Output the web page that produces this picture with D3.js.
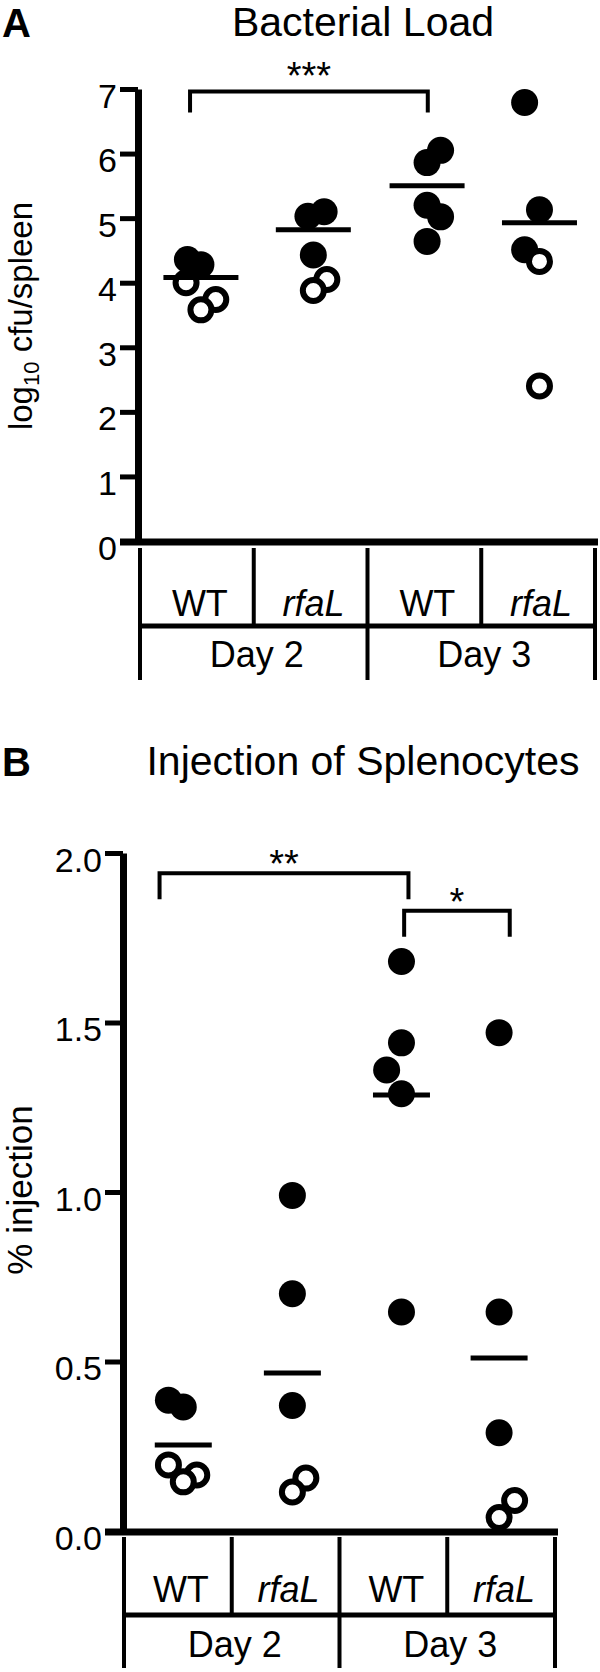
<!DOCTYPE html>
<head>
  <meta charset="utf-8">
  <script src="https://d3js.org/d3.v7.min.js"></script>
  <style>
    body { margin: 0; background: #fff; }
    svg text { font-family: 'Liberation Sans', Arial, Helvetica, sans-serif; fill: #000; }
  </style>
</head>

<body>
  <svg id="chart" width="600" height="1672"></svg>
  <script>
    // shared table categories
    var strains = ['WT', 'rfaL', 'WT', 'rfaL'];
    var days = ['Day 2', 'Day 3'];

    // A: bacterial load, log10 cfu/spleen (one row per group, 5 mice)
    var loadValues = [
      [4.36, 4.28, 4.00, 3.74, 3.58],
      [5.03, 5.10, 4.43, 4.05, 3.88],
      [6.05, 5.86, 5.20, 5.02, 4.64],
      [6.79, 5.13, 4.51, 4.33, 2.40]
    ];
    var loadOpen = [
      [0, 0, 1, 1, 1],
      [0, 0, 0, 1, 1],
      [0, 0, 0, 0, 0],
      [0, 0, 0, 1, 1]
    ];
    // horizontal spread of the dots, in dot radii
    var loadJitter = [
      [-0.7, 0.3, -0.8, 1.4, 0.3],
      [-0.2, 1.0, 0.2, 1.2, 0.2],
      [1.2, 0.2, 0.2, 1.2, 0.2],
      [-1.0, 0.1, -1.0, 0.1, 0.1]
    ];
    var loadMeans = [4.08, 4.82, 5.50, 4.93];
    var loadTicks = [0, 1, 2, 3, 4, 5, 6, 7];
    var loadStars = ['***'];
    var loadBracketFrom = [-0.06];
    var loadBracketTo = [2.03];
    var loadBracketAt = [6.96];

    // B: injection of splenocytes, % injection
    var injValues = [
      [0.386, 0.366, 0.195, 0.165, 0.145],
      [0.99, 0.70, 0.37, 0.156, 0.115],
      [1.68, 1.44, 1.36, 1.29, 0.646],
      [1.47, 0.646, 0.29, 0.09, 0.04]
    ];
    var injOpen = [
      [0, 0, 1, 1, 1],
      [0, 0, 0, 1, 1],
      [0, 0, 0, 0, 0],
      [0, 0, 0, 1, 1]
    ];
    var injJitter = [
      [-0.7, 0.4, -0.7, 1.4, 0.4],
      [0.5, 0.5, 0.5, 1.5, 0.5],
      [0.6, 0.6, -0.5, 0.6, 0.6],
      [-0.15, -0.15, -0.15, 1.0, -0.15]
    ];
    var injMeans = [0.254, 0.466, 1.286, 0.51];
    var injTicks = [0, 0.5, 1, 1.5, 2];
    var injStars = ['**', '*'];
    var injBracketFrom = [-0.17, 2.10];
    var injBracketTo = [2.14, 3.08];
    var injBracketAt = [1.94, 1.83];

    var chart = d3.select('#chart');
    var R = 13.5;

    function drawPanel(p) {
      var g = chart.append('g');
      var y = d3.scaleLinear().domain(p.yDomain).range(p.yRange);
      var x = d3.scaleLinear().domain([-0.5, strains.length - 0.5]).range(p.tableX);
      var bw = (p.tableX[1] - p.tableX[0]) / strains.length;
      var dayX = d3.scaleBand().domain(days).range(p.tableX);

      g.append('text')
        .attr('x', 2).attr('y', p.letterY)
        .attr('font-size', 40).attr('font-weight', 'bold')
        .text(p.letter);

      g.append('text')
        .attr('x', 363).attr('y', p.letterY - 1)
        .attr('text-anchor', 'middle').attr('font-size', 41)
        .text(p.title);

      p.label(g);

      var axis = g.append('g')
        .attr('transform', 'translate(' + p.axisX + ',0)')
        .call(d3.axisLeft(y).tickValues(p.ticks).tickFormat(p.format)
          .tickSize(18).tickSizeOuter(0).tickPadding(3));
      axis.attr('font-family', null).attr('font-size', 34);
      axis.select('.domain').attr('stroke', '#000').attr('stroke-width', 7);
      axis.selectAll('.tick line').attr('stroke', '#000').attr('stroke-width', 5);
      axis.selectAll('.tick text').attr('fill', '#000').attr('dy', '0.53em');

      // x axis line, it also carries the 0 tick
      g.append('line')
        .attr('x1', p.axisX - 18).attr('x2', p.tableX[1] + 3)
        .attr('y1', y(0) + 1).attr('y2', y(0) + 1)
        .attr('stroke', '#000').attr('stroke-width', 7);

      // category table under the axis
      var t = p.tableY;
      g.selectAll('.vline')
        .data(d3.range(strains.length + 1))
        .join('line')
        .attr('x1', (i) => p.tableX[0] + i * bw)
        .attr('x2', (i) => p.tableX[0] + i * bw)
        .attr('y1', t[0])
        .attr('y2', (i) => i % 2 === 0 ? t[2] : t[1])
        .attr('stroke', '#000').attr('stroke-width', 4);

      g.append('line')
        .attr('x1', p.tableX[0]).attr('x2', p.tableX[1])
        .attr('y1', t[1]).attr('y2', t[1])
        .attr('stroke', '#000').attr('stroke-width', 5);

      g.selectAll('.strain')
        .data(strains)
        .join('text')
        .attr('x', (d, i) => x(i) + 3)
        .attr('y', p.textY[0])
        .attr('text-anchor', 'middle').attr('font-size', 36)
        .attr('font-style', (d) => d === 'rfaL' ? 'italic' : null)
        .text((d) => d);

      g.selectAll('.day')
        .data(days)
        .join('text')
        .attr('x', (d) => dayX(d) + dayX.bandwidth() / 2 + 3)
        .attr('y', p.textY[1])
        .attr('text-anchor', 'middle').attr('font-size', 36)
        .text((d) => d);

      // dots
      var points = [];
      p.values.forEach((vals, i) => vals.forEach((v, j) => points.push({
        group: i, value: v, open: p.open[i][j], jit: p.jitter[i][j]
      })));

      g.selectAll('.dot')
        .data(points)
        .join('circle')
        .attr('cx', (d) => x(d.group) + d.jit * R)
        .attr('cy', (d) => y(d.value))
        .attr('r', (d) => d.open ? R - 3 : R)
        .attr('fill', (d) => d.open ? '#fff' : '#000')
        .attr('stroke', (d) => d.open ? '#000' : 'none')
        .attr('stroke-width', 6);

      // group means
      g.selectAll('.mean')
        .data(p.means)
        .join('line')
        .attr('x1', (d, i) => x(i) + d3.median(p.jitter[i]) * R - p.meanLen / 2)
        .attr('x2', (d, i) => x(i) + d3.median(p.jitter[i]) * R + p.meanLen / 2)
        .attr('y1', (d) => y(d))
        .attr('y2', (d) => y(d))
        .attr('stroke', '#000').attr('stroke-width', 5);

      // significance brackets
      g.selectAll('.bracket')
        .data(p.stars)
        .join('path')
        .attr('d', (d, k) => 'M' + x(p.bFrom[k]) + ',' + (y(p.bAt[k]) + p.drop) +
          'V' + y(p.bAt[k]) + 'H' + x(p.bTo[k]) + 'V' + (y(p.bAt[k]) + p.drop))
        .attr('fill', 'none').attr('stroke', '#000').attr('stroke-width', 4);

      g.selectAll('.stars')
        .data(p.stars)
        .join('text')
        .attr('x', (d, k) => (x(p.bFrom[k]) + x(p.bTo[k])) / 2)
        .attr('y', (d, k) => y(p.bAt[k]) - p.starGap + 16)
        .attr('text-anchor', 'middle').attr('font-size', 38)
        .text((d) => d);
    }

    drawPanel({
      letter: 'A', title: 'Bacterial Load', letterY: 37,
      values: loadValues, open: loadOpen, jitter: loadJitter, means: loadMeans,
      ticks: loadTicks, format: d3.format('d'),
      yDomain: [0, 7], yRange: [541, 89], axisX: 138,
      tableX: [140, 595], tableY: [548, 626, 680], textY: [616, 667],
      meanLen: 75, drop: 21, starGap: 19,
      stars: loadStars, bFrom: loadBracketFrom, bTo: loadBracketTo, bAt: loadBracketAt,
      label: (g) => {
        var txt = g.append('text')
          .attr('transform', 'translate(32,316) rotate(-90)')
          .attr('text-anchor', 'middle').attr('font-size', 33);
        txt.append('tspan').text('log');
        txt.append('tspan').attr('font-size', 22).attr('dy', 7).text('10');
        txt.append('tspan').attr('dy', -7).text(' cfu/spleen');
      }
    });

    drawPanel({
      letter: 'B', title: 'Injection of Splenocytes', letterY: 776,
      values: injValues, open: injOpen, jitter: injJitter, means: injMeans,
      ticks: injTicks, format: d3.format('.1f'),
      yDomain: [0, 2], yRange: [1531, 853], axisX: 123,
      tableX: [124, 555], tableY: [1537, 1615, 1668], textY: [1602, 1657],
      meanLen: 57, drop: 26, starGap: 12,
      stars: injStars, bFrom: injBracketFrom, bTo: injBracketTo, bAt: injBracketAt,
      label: (g) => {
        g.append('text')
          .attr('transform', 'translate(32,1190) rotate(-90)')
          .attr('text-anchor', 'middle').attr('font-size', 35)
          .text('% injection');
      }
    });
  </script>
</body>

</html>
